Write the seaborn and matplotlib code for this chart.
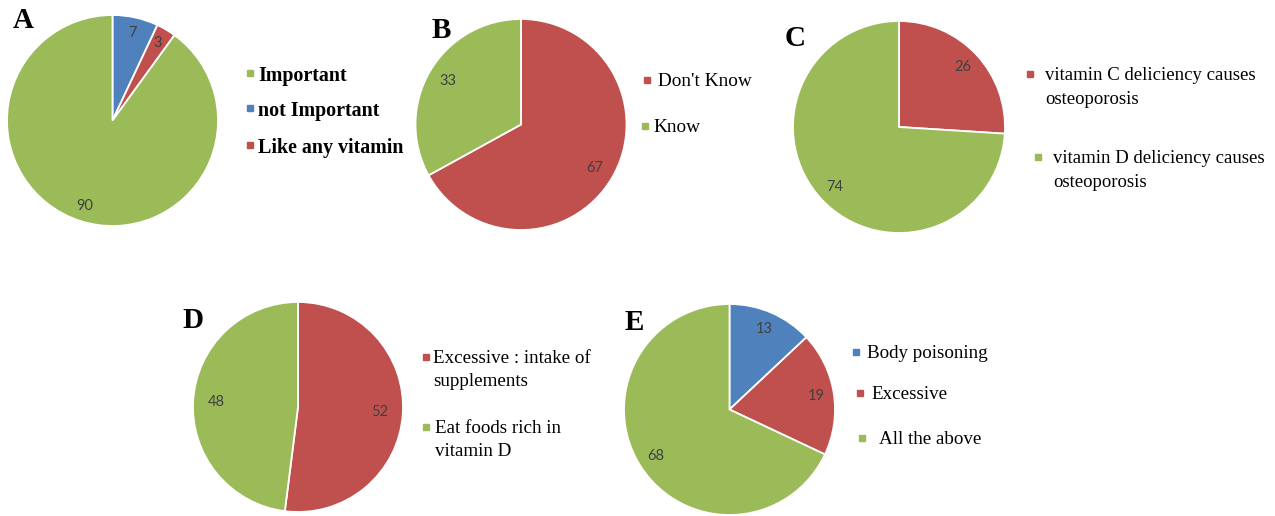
import numpy as np
import matplotlib
matplotlib.use('Agg')
import matplotlib.pyplot as plt
import seaborn as sns

# survey answers (percent) for each panel
labels_a = ['not Important', 'Like any vitamin', 'Important']
values_a = [7, 3, 90]
legend_a = ['Important', 'not Important', 'Like any vitamin']

labels_b = ["Don't Know", 'Know']
values_b = [67, 33]
legend_b = [" Don't Know", 'Know']

labels_c = ['vitamin C deliciency causes\nosteoporosis', 'vitamin D deliciency causes\nosteoporosis']
values_c = [26, 74]
legend_c = labels_c

labels_d = ['Excessive : intake of\nsupplements', 'Eat foods rich in\nvitamin D']
values_d = [52, 48]
legend_d = labels_d

labels_e = ['Body poisoning', 'Excessive', 'All the above']
values_e = [13, 19, 68]
legend_e = labels_e

GREEN = '#9BBB59'
RED = '#C0504D'
BLUE = '#4F81BD'
colors = {'not Important': BLUE, 'Like any vitamin': RED, 'Important': GREEN,
          "Don't Know": RED, 'Know': GREEN,
          labels_c[0]: RED, labels_c[1]: GREEN,
          labels_d[0]: RED, labels_d[1]: GREEN,
          'Body poisoning': BLUE, 'Excessive': RED, 'All the above': GREEN}

W, H = 1275, 516

sns.set_theme(style='white')
plt.rcParams['font.family'] = ['Liberation Serif', 'DejaVu Serif']

fig = plt.figure(figsize=(W / 100, H / 100), dpi=100)
fig.patch.set_facecolor('white')


def fx(x):
    return x / W


def fy(y):
    return 1 - y / H


# panel layout in pixels: centre, radius, letter, label distance,
# legend entries as (marker x, text x, row centre y)
panels = [
    dict(tag='A', labels=labels_a, values=values_a, legend=legend_a,
         c=(112.5, 120.5), r=105.5, letter=(23, 20), pd=0.85, bold=True, fs=14.4,
         rows=[(250, 258, 73), (250, 258, 108), (250, 258, 145)]),
    dict(tag='B', labels=labels_b, values=values_b, legend=legend_b,
         c=(521, 124.5), r=105.5, letter=(441, 31), pd=0.81, bold=False, fs=13.9,
         rows=[(647, 653, 80), (645, 653, 126)]),
    dict(tag='C', labels=labels_c, values=values_c, legend=legend_c,
         c=(899, 127), r=106, letter=(795, 39), pd=0.83, bold=False, fs=13.5,
         rows=[(1030, 1045, 74), (1038, 1053, 157)]),
    dict(tag='D', labels=labels_d, values=values_d, legend=legend_d,
         c=(298, 407), r=105, letter=(193, 321), pd=0.78, bold=False, fs=13.7,
         rows=[(426, 433, 357), (426, 435, 427)]),
    dict(tag='E', labels=labels_e, values=values_e, legend=legend_e,
         c=(729.5, 409.5), r=105.5, letter=(634, 323), pd=0.83, bold=False, fs=13.7,
         rows=[(856, 867, 352), (860, 871, 393), (862, 879, 438)]),
]

for p in panels:
    cx, cy = p['c']
    r = p['r']
    ax = fig.add_axes([fx(cx - r), fy(cy + r), 2 * r / W, 2 * r / H])
    ax.pie(p['values'], colors=[colors[l] for l in p['labels']],
           startangle=90, counterclock=False,
           autopct=lambda v: '%.0f' % v, pctdistance=p['pd'],
           wedgeprops=dict(edgecolor='white', linewidth=1.3),
           textprops=dict(color='#404040', fontsize=10.5, family=['Lato', 'DejaVu Sans']))
    ax.set_xlim(-1, 1)
    ax.set_ylim(-1, 1)
    ax.set_aspect('equal')
    ax.axis('off')

    # panel letter
    fig.text(fx(p['letter'][0]), fy(p['letter'][1]), p['tag'], fontsize=21,
             fontweight='bold', ha='center', va='center', color='black')

    # legend drawn entry by entry so the marker sits on the first line
    for lab, (mx, tx, ry) in zip(p['legend'], p['rows']):
        key = lab.strip()
        fig.add_artist(plt.Line2D([fx(mx)], [fy(ry)], marker='s', markersize=4.2,
                                  color=colors[key], linestyle='none',
                                  transform=fig.transFigure))
        fig.text(fx(tx), fy(ry - 7), lab, fontsize=p['fs'],
                 fontweight='bold' if p['bold'] else 'normal',
                 ha='left', va='top', color='black', linespacing=1.5)

plt.savefig('out.png', dpi=100, facecolor='white')
